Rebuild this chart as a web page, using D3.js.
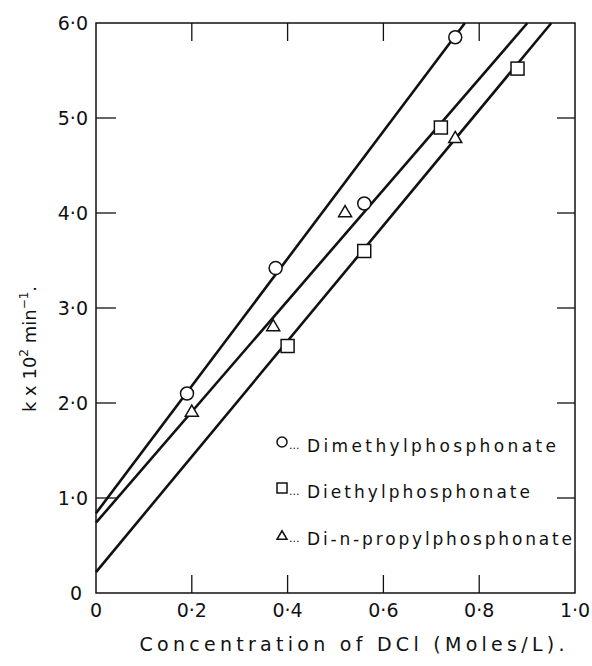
<!DOCTYPE html>
<html lang="en">
<head>
  <meta charset="UTF-8">
  <title>Rate constant vs DCl concentration</title>
  <style>
    body { margin: 0; background: #fff; }
    text { font-family: "DejaVu Sans", sans-serif; fill: #111; }
  </style>
</head>
<body>
  <script src="https://d3js.org/d3.v7.min.js"></script>
  <script>
    const width = 592;
    const height = 666;

    // axis ticks
    const xTicks = [0, 0.2, 0.4, 0.6, 0.8, 1.0];
    const xTickLabels = ['0', '0·2', '0·4', '0·6', '0·8', '1·0'];
    const yTicks = [0, 1, 2, 3, 4, 5, 6];
    const yTickLabels = ['0', '1·0', '2·0', '3·0', '4·0', '5·0', '6·0'];

    // measured points [conc, k x 10^2]
    const dimethyl = [[0.19, 2.1], [0.375, 3.42], [0.56, 4.1], [0.75, 5.85]];
    const diethyl = [[0.40, 2.6], [0.56, 3.6], [0.72, 4.9], [0.88, 5.52]];
    const dipropyl = [[0.20, 1.92], [0.37, 2.82], [0.52, 4.02], [0.75, 4.8]];

    // straight lines drawn through the points (intercept, slope)
    const fitIntercepts = [0.84, 0.74, 0.22];
    const fitSlopes = [6.7, 5.84, 6.08];

    const legendNames = ['Dimethylphosphonate', 'Diethylphosphonate', 'Di-n-propylphosphonate'];
    const legendShapes = ['circle', 'square', 'triangle'];

    const pLeft = 96, pRight = 575, pTop = 23, pBottom = 593;

    const x = d3.scaleLinear().domain([0, 1]).range([pLeft, pRight]);
    const y = d3.scaleLinear().domain([0, 6]).range([pBottom, pTop]);

    const svg = d3.select('body')
      .append('svg')
      .attr('width', width)
      .attr('height', height);

    // frame
    svg.append('rect')
      .attr('x', pLeft)
      .attr('y', pTop)
      .attr('width', pRight - pLeft)
      .attr('height', pBottom - pTop)
      .attr('fill', 'none')
      .attr('stroke', '#111')
      .attr('stroke-width', 1.5);

    // inner ticks on all four sides
    const tickLen = 18;
    const innerX = xTicks.slice(1, -1);
    const innerY = yTicks.slice(1, -1);
    const ticks = svg.append('g').attr('stroke', '#111').attr('stroke-width', 1.3);
    innerX.forEach(v => {
      ticks.append('line').attr('x1', x(v)).attr('x2', x(v)).attr('y1', pBottom).attr('y2', pBottom - tickLen);
      ticks.append('line').attr('x1', x(v)).attr('x2', x(v)).attr('y1', pTop).attr('y2', pTop + tickLen);
    });
    innerY.forEach(v => {
      ticks.append('line').attr('x1', pLeft).attr('x2', pLeft + 20).attr('y1', y(v)).attr('y2', y(v));
      ticks.append('line').attr('x1', pRight).attr('x2', pRight - tickLen).attr('y1', y(v)).attr('y2', y(v));
    });

    // tick labels
    svg.selectAll('.xlab')
      .data(xTicks)
      .enter()
      .append('text')
      .attr('class', 'xlab')
      .attr('x', d => x(d))
      .attr('y', 617)
      .attr('text-anchor', 'middle')
      .attr('font-size', 19)
      .text((d, i) => xTickLabels[i]);

    svg.selectAll('.ylab')
      .data(yTicks)
      .enter()
      .append('text')
      .attr('class', 'ylab')
      .attr('x', d => d === 0 ? 82 : 88)
      .attr('y', d => y(d) + 7)
      .attr('text-anchor', 'end')
      .attr('font-size', 19)
      .text((d, i) => yTickLabels[i]);

    // fitted lines, from the y axis up to the top of the frame
    const line = d3.line().x(d => x(d[0])).y(d => y(d[1]));
    fitIntercepts.forEach((b, i) => {
      const m = fitSlopes[i];
      const xEnd = Math.min(1, (6 - b) / m);
      svg.append('path')
        .attr('d', line([[0, b], [xEnd, b + m * xEnd]]))
        .attr('fill', 'none')
        .attr('stroke', '#111')
        .attr('stroke-width', 2.6);
    });

    // markers
    const drawMarker = (g, shape, cx, cy, s) => {
      if (shape === 'circle') {
        g.append('circle').attr('cx', cx).attr('cy', cy).attr('r', s / 2);
      } else if (shape === 'square') {
        g.append('rect').attr('x', cx - s / 2).attr('y', cy - s / 2).attr('width', s).attr('height', s);
      } else {
        const h = s * 0.85;
        g.append('path').attr('d', `M${cx},${cy - h / 2}L${cx + s / 2},${cy + h / 2}L${cx - s / 2},${cy + h / 2}Z`);
      }
    };

    const markers = svg.append('g')
      .attr('fill', '#fff')
      .attr('stroke', '#111')
      .attr('stroke-width', 1.5);
    [dimethyl, diethyl, dipropyl].forEach((series, i) => {
      series.forEach(d => drawMarker(markers, legendShapes[i], x(d[0]), y(d[1]), 13));
    });

    // legend
    const legendRows = [444, 490, 537];
    const legendLengths = [249, 223, 265];
    legendNames.forEach((name, i) => {
      drawMarker(markers, legendShapes[i], 282, legendRows[i] - 2, 10);
      svg.append('text')
        .attr('x', 289)
        .attr('y', legendRows[i] + 5)
        .attr('font-size', 11)
        .text('...');
      svg.append('text')
        .attr('x', 307)
        .attr('y', legendRows[i] + 8)
        .attr('font-size', 17)
        .attr('textLength', legendLengths[i])
        .attr('lengthAdjust', 'spacing')
        .text(name);
    });

    // axis titles
    svg.append('text')
      .attr('x', 352)
      .attr('y', 651)
      .attr('text-anchor', 'middle')
      .attr('font-size', 19)
      .attr('textLength', 425)
      .attr('lengthAdjust', 'spacing')
      .text('Concentration of DCl (Moles/L).');

    const ylab = svg.append('text')
      .attr('transform', 'translate(36,349) rotate(-90)')
      .attr('text-anchor', 'middle')
      .attr('font-size', 18);
    ylab.append('tspan').text('k x 10');
    ylab.append('tspan').attr('font-size', 12).attr('dy', -8).text('2');
    ylab.append('tspan').attr('dy', 8).text(' min');
    ylab.append('tspan').attr('font-size', 12).attr('dy', -8).text('−1');
    ylab.append('tspan').attr('dy', 8).text('.');
  </script>
</body>
</html>
